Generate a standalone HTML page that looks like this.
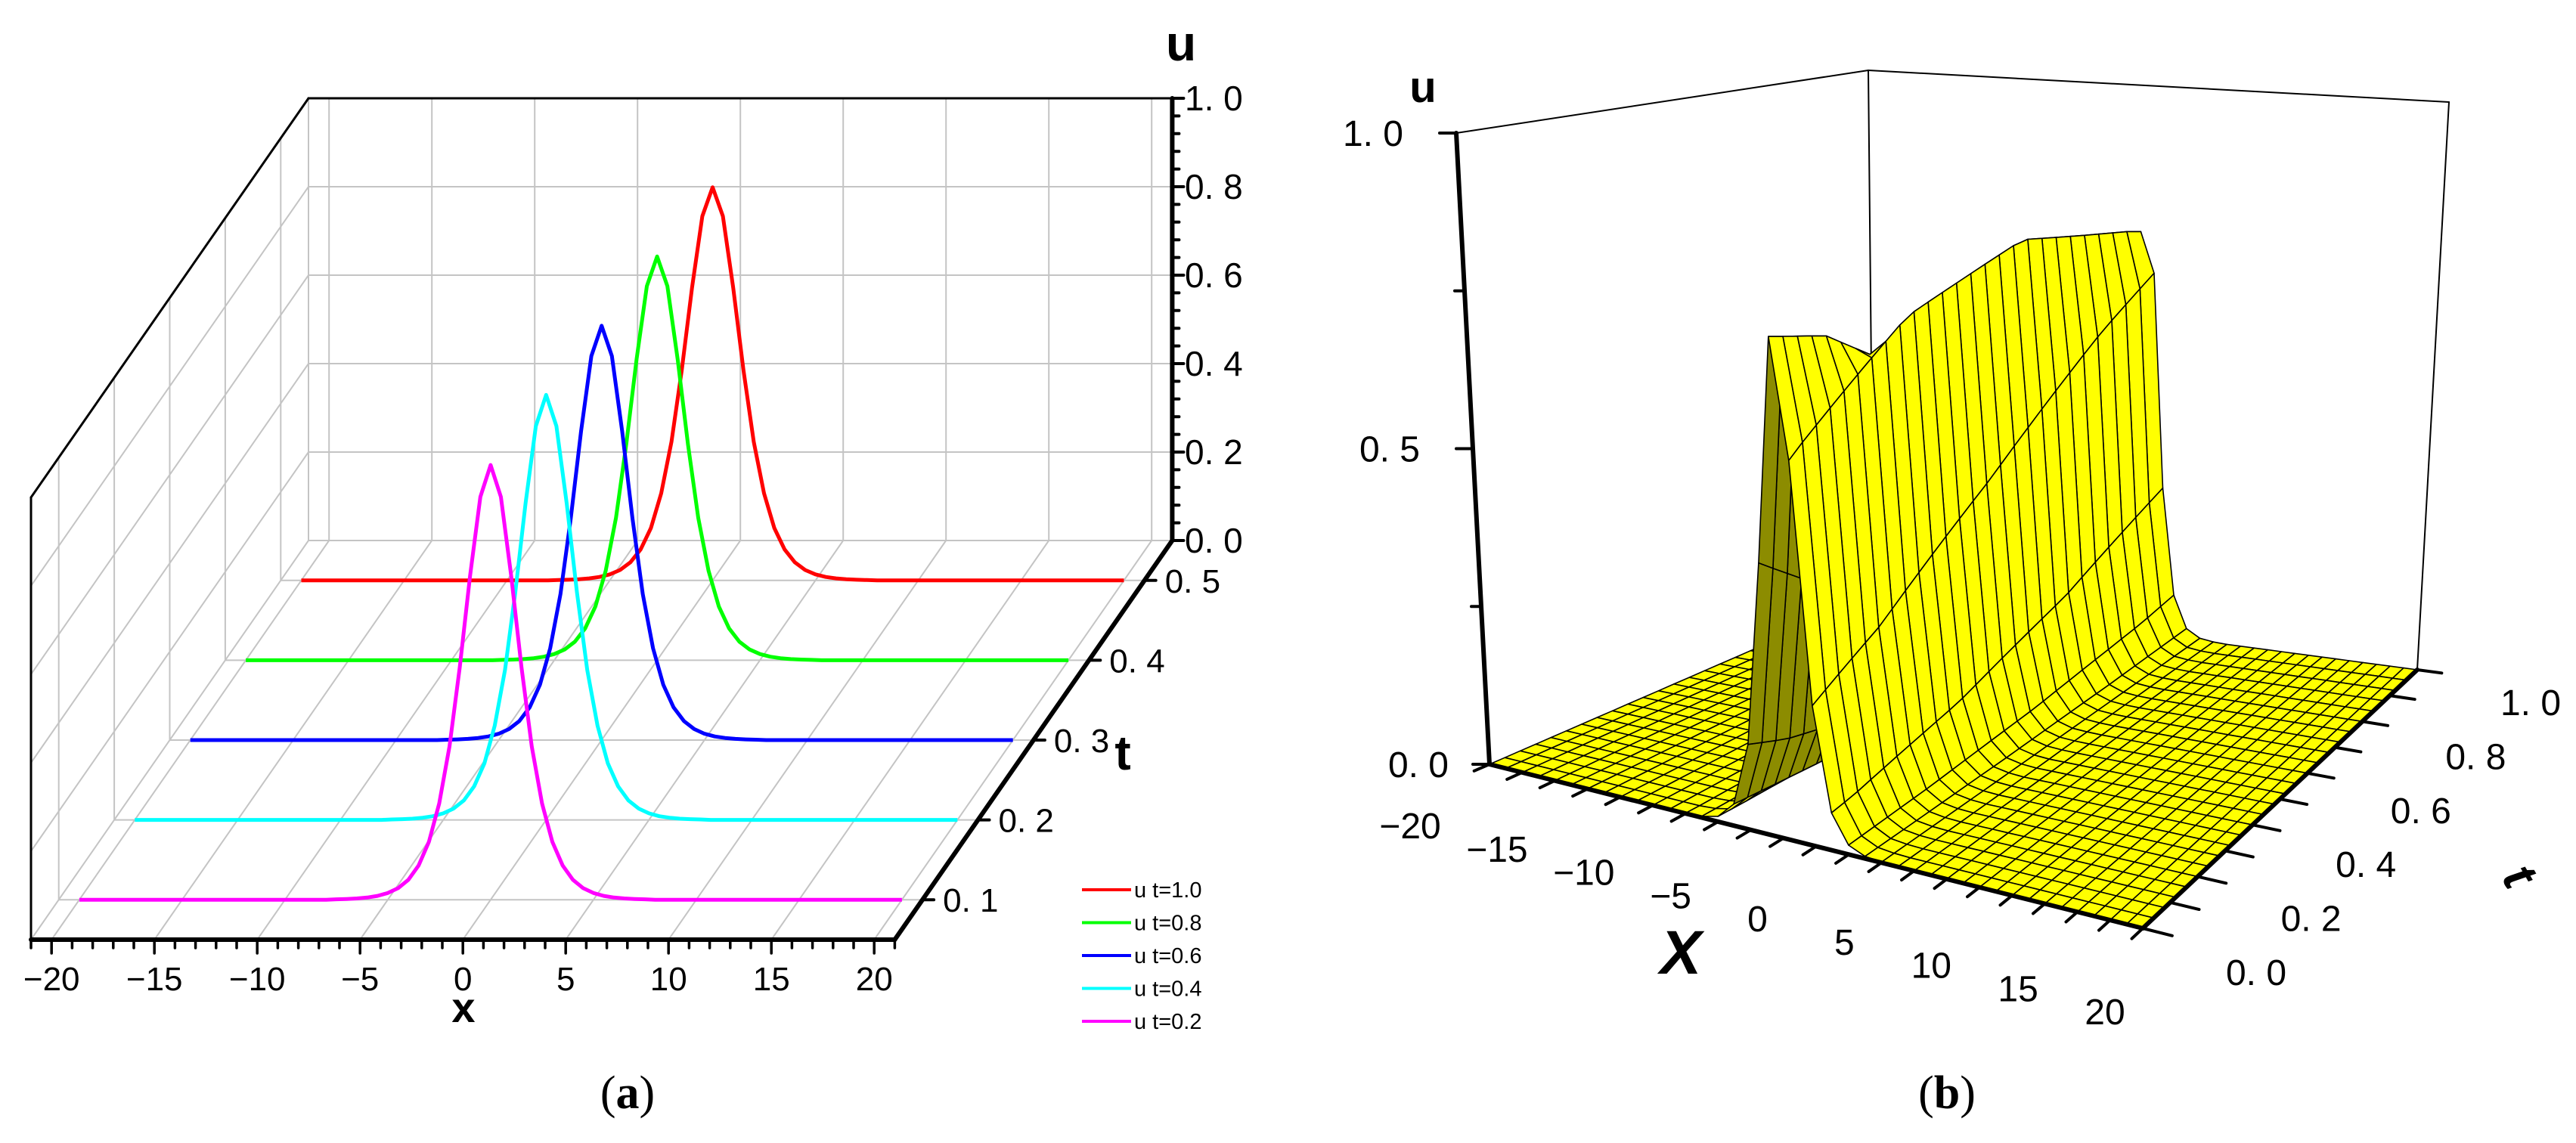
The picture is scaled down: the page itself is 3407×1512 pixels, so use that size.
<!DOCTYPE html>
<html><head><meta charset="utf-8"><style>
html,body{margin:0;padding:0;background:#fff;}
svg{display:block;}
text{font-family:"Liberation Sans",sans-serif;}
</style></head>
<body>
<svg id="chart" xmlns="http://www.w3.org/2000/svg" width="3407" height="1512" viewBox="0 0 3407 1512">
<rect x="0" y="0" width="3407" height="1512" fill="#fff"/>
<g id="panelA"></g>
<g id="panelB"></g>
<text x="830" y="1466" text-anchor="middle" font-size="62" style="font-family:'Liberation Serif',serif">(<tspan font-weight="bold">a</tspan>)</text>
<text x="2575" y="1466" text-anchor="middle" font-size="62" style="font-family:'Liberation Serif',serif">(<tspan font-weight="bold">b</tspan>)</text>
</svg>
<script>
// ---------- Panel (a) data ----------
const seriesLabels = ["u t=1.0","u t=0.8","u t=0.6","u t=0.4","u t=0.2"];
const seriesColors = ["#ff0000","#00ff00","#0000ff","#00ffff","#ff00ff"];
const seriesTPos = [0.5,0.4,0.3,0.2,0.1];
const seriesPeaks = [0.889,0.913,0.937,0.961,0.983];
const seriesCenters = [0,0,0,0,0];
const profileOffsets = [0,0.5,1,1.5,2,2.5,3,3.5,4,4.5,5,5.5,6,6.5,7,7.5,8];
const profileValues = [1,0.9265,0.745,0.535,0.3527,0.2216,0.1333,0.0789,0.0459,0.0266,0.0154,0.0088,0.0051,0.0029,0.0017,0.001,0.0006];
const aXTicks = [-20,-15,-10,-5,0,5,10,15,20];
const aXTickLabels = ["\u221220","\u221215","\u221210","\u22125","0","5","10","15","20"];
const aUTicks = [0,0.2,0.4,0.6,0.8,1.0];
const aUTickLabels = ["0. 0","0. 2","0. 4","0. 6","0. 8","1. 0"];
const aTTicks = [0.1,0.2,0.3,0.4,0.5];
const aTTickLabels = ["0. 1","0. 2","0. 3","0. 4","0. 5"];
// ---------- Panel (b) data ----------
const bXTicks = [-20,-15,-10,-5,0,5,10,15,20];
const bXTickLabels = ["\u221220","\u221215","\u221210","\u22125","0","5","10","15","20"];
const bTTicks = [0,0.2,0.4,0.6,0.8,1.0];
const bTTickLabels = ["0. 0","0. 2","0. 4","0. 6","0. 8","1. 0"];
const bUTicks = [0,0.5,1.0];
const bUTickLabels = ["0. 0","0. 5","1. 0"];
const ridgeT = [0,0.2,0.4,0.6,0.8,1.0];
const ridgeCenter = [-1.8,-1.56,-1.32,-1.08,-0.84,-0.6];
const ridgeHeight = [0.845,0.835,0.825,0.815,0.805,0.795];

const NS = "http://www.w3.org/2000/svg";
function mk(parent, tag, attrs){
  const e = document.createElementNS(NS, tag);
  for (const k in attrs) e.setAttribute(k, attrs[k]);
  parent.appendChild(e);
  return e;
}
function prof(dx){
  const a = Math.abs(dx);
  const last = profileOffsets[profileOffsets.length-1];
  if (a >= last) return 0;
  const step = profileOffsets[1]-profileOffsets[0];
  const i = Math.floor(a/step);
  const f = (a - profileOffsets[i])/step;
  return profileValues[i]*(1-f) + profileValues[i+1]*f;
}

// ================= Panel A =================
const gA = document.getElementById("panelA");
function axX(x){ return (x+21)*27.2; }
function axD(t){ return (t-0.05)/0.5; }
function axU(u){ return u*585; }
function PA(x,d,u){ return [41 + axX(x) + d*367, 1243 - d*528 - axU(u)]; }
function lineA(p,q,stroke,w,name){
  const l = mk(gA,"line",{x1:p[0],y1:p[1],x2:q[0],y2:q[1],stroke:stroke,"stroke-width":w,"stroke-linecap":"round"});
  
  
  return l;
}
const grid = "#c4c4c4";
for (const x of aXTicks) lineA(PA(x,1,0),PA(x,1,1),grid,2,"back-wall-gridline-x");
lineA(PA(-21,1,0),PA(-21,1,1),grid,2,"back-wall-left-edge");
for (const u of aUTicks) if (u>0 && u<1) lineA(PA(-21,1,u),PA(21,1,u),grid,2,"back-wall-gridline-u");
lineA(PA(-21,1,0),PA(21,1,0),grid,2,"back-floor-edge");
for (const t of aTTicks) lineA(PA(-21,axD(t),0),PA(-21,axD(t),1),grid,2,"left-wall-gridline-t");
for (const u of aUTicks) if (u<1) lineA(PA(-21,0,u),PA(-21,1,u),grid,2,"left-wall-gridline-u");
for (const x of aXTicks) lineA(PA(x,0,0),PA(x,1,0),grid,2,"floor-gridline-x");
for (const t of aTTicks) lineA(PA(-21,axD(t),0),PA(21,axD(t),0),grid,2,"floor-gridline-t");
lineA(PA(-21,1,1),PA(21,1,1),"#000",3,"back-wall-top-edge");
lineA(PA(-21,0,1),PA(-21,1,1),"#000",3,"left-wall-top-edge");
lineA(PA(-21,0,0),PA(-21,0,1),"#000",3,"left-wall-front-edge");
for (let i=0;i<seriesLabels.length;i++){
  const d = axD(seriesTPos[i]);
  let pts = [];
  for (let x=-20; x<=20.001; x+=0.5){
    const u = seriesPeaks[i]*prof(x-seriesCenters[i]);
    const p = PA(x,d,u);
    pts.push(p[0].toFixed(1)+","+p[1].toFixed(1));
  }
  const pl = mk(gA,"polyline",{points:pts.join(" "),fill:"none",stroke:seriesColors[i],"stroke-width":5,"stroke-linejoin":"round"});
  
  
}
lineA(PA(-21,0,0),PA(21,0,0),"#000",6,"x-axis-line");
for (let x=-21; x<=21; x++){
  const p = PA(x,0,0);
  const major = (x%5===0);
  lineA([p[0],p[1]],[p[0],p[1]+(major?18:11)],"#000",3.5,"x-axis-tick");
}
for (let i=0;i<aXTicks.length;i++){
  const p = PA(aXTicks[i],0,0);
  const t = mk(gA,"text",{x:p[0],y:p[1]+67,"text-anchor":"middle","font-size":44});
  t.textContent = aXTickLabels[i];
  
  
}
let ta = mk(gA,"text",{x:613,y:1352,"text-anchor":"middle","font-size":56,"font-weight":"bold"});
ta.textContent = "x";


lineA(PA(21,0,0),PA(21,1,0),"#000",6,"t-axis-line");
for (let i=0;i<aTTicks.length;i++){
  const p = PA(21,axD(aTTicks[i]),0);
  lineA(p,[p[0]+15,p[1]],"#000",4,"t-axis-tick");
  const t = mk(gA,"text",{x:p[0]+27,y:p[1]+16,"font-size":44});
  t.textContent = aTTickLabels[i];
  
  
}
ta = mk(gA,"text",{x:1485,y:1018,"text-anchor":"middle","font-size":64,"font-weight":"bold"});
ta.textContent = "t";


lineA(PA(21,1,0),PA(21,1,1),"#000",6,"u-axis-line");
for (let k=0;k<=25;k++){
  const u = k*0.04;
  const p = PA(21,1,u);
  lineA(p,[p[0]+(k%5===0?15:9),p[1]],"#000",4,"u-axis-tick");
}
for (let i=0;i<aUTicks.length;i++){
  const p = PA(21,1,aUTicks[i]);
  const t = mk(gA,"text",{x:1567,y:p[1]+16,"font-size":46});
  t.textContent = aUTickLabels[i];
  
  
}
ta = mk(gA,"text",{x:1562,y:80,"text-anchor":"middle","font-size":66,"font-weight":"bold"});
ta.textContent = "u";


for (let i=0;i<seriesLabels.length;i++){
  const y = 1177 + i*43.5;
  const l = mk(gA,"line",{x1:1431,y1:y,x2:1496,y2:y,stroke:seriesColors[i],"stroke-width":4});
  
  
  const t = mk(gA,"text",{x:1500,y:y+10,"font-size":29});
  t.textContent = seriesLabels[i];
  
  
}

// ================= Panel B =================
const gB = document.getElementById("panelB");
const FA=[1970,1011], FB=[2834,1228], FC=[3197,886], FD=[2478,790];
const TA=[1926,176], TB=[2833,435], TC=[3239,135], TD=[2471,93];
function bil(a,b,c,d,fx,ft){
  const x0=a[0]+(b[0]-a[0])*fx, y0=a[1]+(b[1]-a[1])*fx;
  const x1=d[0]+(c[0]-d[0])*fx, y1=d[1]+(c[1]-d[1])*fx;
  return [x0+(x1-x0)*ft, y0+(y1-y0)*ft];
}
function bxF(x){ return (x+20)/40; }
function PB(x,t,u){
  const fx=bxF(x);
  const f=bil(FA,FB,FC,FD,fx,t), g=bil(TA,TB,TC,TD,fx,t);
  return [f[0]+(g[0]-f[0])*u, f[1]+(g[1]-f[1])*u];
}
function interp(arrX, arrY, v){
  if (v<=arrX[0]) return arrY[0];
  for (let i=1;i<arrX.length;i++){
    if (v<=arrX[i]){ const f=(v-arrX[i-1])/(arrX[i]-arrX[i-1]); return arrY[i-1]+(arrY[i]-arrY[i-1])*f; }
  }
  return arrY[arrY.length-1];
}
function surfU(x,t){
  const c = interp(ridgeT,ridgeCenter,t), h = interp(ridgeT,ridgeHeight,t);
  return h*prof((x-c)*1.8/1.4);
}
function lineB(p,q,stroke,w,name){
  const l = mk(gB,"line",{x1:p[0],y1:p[1],x2:q[0],y2:q[1],stroke:stroke,"stroke-width":w,"stroke-linecap":"round"});
  
  
  return l;
}
lineB(TA,TD,"#000",2,"box-top-left-edge");
lineB(TD,TC,"#000",2,"box-top-back-edge");
lineB(TD,FD,"#000",2,"box-back-vertical-edge");
lineB(TC,FC,"#000",2,"box-right-vertical-edge");
const NX=40, NT=25;
const xs=[], ts=[];
for (let k=0;k<=NX;k++) xs.push(-20+40*k/NX);
for (let j=0;j<=NT;j++) ts.push(j/NT);
const surf = mk(gB,"g",{});


for (let j=NT-1;j>=0;j--){
  for (let k=0;k<NX;k++){
    const x1=xs[k],x2=xs[k+1],t1=ts[j],t2=ts[j+1];
    const u11=surfU(x1,t1),u21=surfU(x2,t1),u22=surfU(x2,t2),u12=surfU(x1,t2);
    const p=[PB(x1,t1,u11),PB(x2,t1,u21),PB(x2,t2,u22),PB(x1,t2,u12)];
    const slope=((u21-u11)+(u22-u12))/2/(x2-x1);
    const fill = slope>0.03 ? "#8c8c00" : "#ffff00";
    const poly = mk(surf,"polygon",{points:p.map(q=>q[0].toFixed(1)+","+q[1].toFixed(1)).join(" "),fill:fill,stroke:"#000","stroke-width":1.6,"stroke-linejoin":"round"});
    
    
  }
}
lineB(FA,TA,"#000",6,"u-axis-line");
lineB(FA,FB,"#000",6,"x-axis-line");
lineB(FB,FC,"#000",6,"t-axis-line");
for (let k=0;k<=4;k++){
  const u=k*0.25;
  const p=PB(-20,0,u);
  lineB(p,[p[0]-(k%2===0?22:13),p[1]],"#000",4,"u-axis-tick");
}
for (let i=0;i<bUTicks.length;i++){
  const p=PB(-20,0,bUTicks[i]);
  const t=mk(gB,"text",{x:(p[0]-70+(i===0?16:0)).toFixed(1),y:p[1]+17,"text-anchor":"end","font-size":48});
  t.textContent=bUTickLabels[i];
  
  
}
for (let x=-20;x<=20;x+=2){
  const p=PB(x,0,0), q=PB(x,-0.04,0);
  lineB(p,q,"#000",4,"x-axis-tick");
}
for (let i=0;i<bXTicks.length;i++){
  const x=bXTicks[i], p=PB(x,0,0), f=bxF(x);
  const t=mk(gB,"text",{x:(p[0]-105+55*f).toFixed(1),y:(p[1]+82+29*f+16).toFixed(1),"text-anchor":"middle","font-size":48});
  t.textContent=bXTickLabels[i];
  
  
}
for (let t=0;t<=1.0001;t+=0.1){
  const p=PB(20,t,0), q=PB(21.8,t,0);
  lineB(p,q,"#000",4,"t-axis-tick");
}
for (let i=0;i<bTTicks.length;i++){
  const tv=bTTicks[i], p=PB(20,tv,0);
  const t=mk(gB,"text",{x:(p[0]+150).toFixed(1),y:(p[1]+58-15*tv+17).toFixed(1),"text-anchor":"middle","font-size":48});
  t.textContent=bTTickLabels[i];
  
  
}
let tb=mk(gB,"text",{x:2223,y:1288,"text-anchor":"middle","font-size":82,"font-weight":"bold","font-style":"italic"});
tb.textContent="X";


tb=mk(gB,"text",{x:0,y:0,"text-anchor":"middle","font-size":66,"font-weight":"bold","font-style":"italic",transform:"translate(3313,1170) rotate(60)"});
tb.textContent="t";


tb=mk(gB,"text",{x:1882,y:135,"text-anchor":"middle","font-size":58,"font-weight":"bold"});
tb.textContent="u";


</script>
</body></html>
